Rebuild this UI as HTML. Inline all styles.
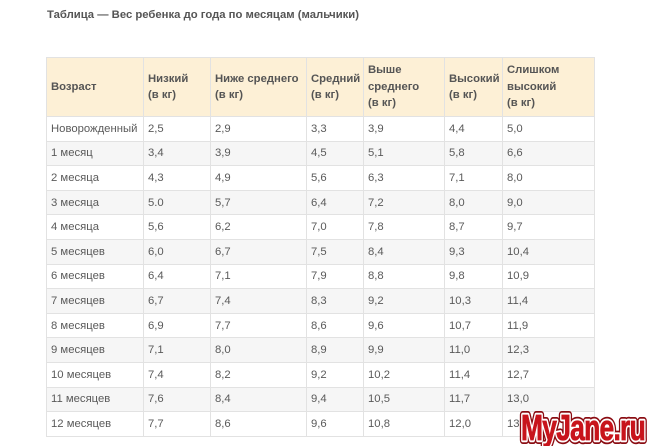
<!DOCTYPE html>
<html><head><meta charset="utf-8">
<style>
html,body{margin:0;padding:0;background:#fff;}
body{width:649px;height:446px;position:relative;overflow:hidden;font-family:"Liberation Sans",Arial,sans-serif;color:#555;}
.title{position:absolute;left:47px;top:9px;font-size:11.3px;font-weight:bold;color:#555;white-space:nowrap;}
table{position:absolute;left:46px;top:57px;width:549px;border-collapse:collapse;table-layout:fixed;font-size:11.3px;}
td,th{border:1px solid #e2e2e2;padding:0 0 0 4px;text-align:left;vertical-align:middle;white-space:nowrap;overflow:hidden;}
th{background:#fdf0d6;font-weight:bold;color:#555;line-height:16.5px;height:58px;}
td{height:23.6px;color:#5a5a5a;}
tr.g td{background:#f6f6f6;}
.wm{position:absolute;left:517px;top:402px;}
</style></head><body>
<div class="title">Таблица — Вес ребенка до года по месяцам (мальчики)</div>
<table>
<colgroup><col style="width:97px"><col style="width:67px"><col style="width:96px"><col style="width:57px"><col style="width:81px"><col style="width:58px"><col style="width:92px"></colgroup>
<tr><th>Возраст</th><th>Низкий<br>(в кг)</th><th>Ниже среднего<br>(в кг)</th><th>Средний<br>(в кг)</th><th>Выше<br>среднего<br>(в кг)</th><th>Высокий<br>(в кг)</th><th>Слишком<br>высокий<br>(в кг)</th></tr>
<tr><td>Новорожденный</td><td>2,5</td><td>2,9</td><td>3,3</td><td>3,9</td><td>4,4</td><td>5,0</td></tr>
<tr class="g"><td>1 месяц</td><td>3,4</td><td>3,9</td><td>4,5</td><td>5,1</td><td>5,8</td><td>6,6</td></tr>
<tr><td>2 месяца</td><td>4,3</td><td>4,9</td><td>5,6</td><td>6,3</td><td>7,1</td><td>8,0</td></tr>
<tr class="g"><td>3 месяца</td><td>5.0</td><td>5,7</td><td>6,4</td><td>7,2</td><td>8,0</td><td>9,0</td></tr>
<tr><td>4 месяца</td><td>5,6</td><td>6,2</td><td>7,0</td><td>7,8</td><td>8,7</td><td>9,7</td></tr>
<tr class="g"><td>5 месяцев</td><td>6,0</td><td>6,7</td><td>7,5</td><td>8,4</td><td>9,3</td><td>10,4</td></tr>
<tr><td>6 месяцев</td><td>6,4</td><td>7,1</td><td>7,9</td><td>8,8</td><td>9,8</td><td>10,9</td></tr>
<tr class="g"><td>7 месяцев</td><td>6,7</td><td>7,4</td><td>8,3</td><td>9,2</td><td>10,3</td><td>11,4</td></tr>
<tr><td>8 месяцев</td><td>6,9</td><td>7,7</td><td>8,6</td><td>9,6</td><td>10,7</td><td>11,9</td></tr>
<tr class="g"><td>9 месяцев</td><td>7,1</td><td>8,0</td><td>8,9</td><td>9,9</td><td>11,0</td><td>12,3</td></tr>
<tr><td>10 месяцев</td><td>7,4</td><td>8,2</td><td>9,2</td><td>10,2</td><td>11,4</td><td>12,7</td></tr>
<tr class="g"><td>11 месяцев</td><td>7,6</td><td>8,4</td><td>9,4</td><td>10,5</td><td>11,7</td><td>13,0</td></tr>
<tr><td>12 месяцев</td><td>7,7</td><td>8,6</td><td>9,6</td><td>10,8</td><td>12,0</td><td>13,1</td></tr>
</table>
<svg class="wm" width="132" height="44" viewBox="0 0 132 44">
<g font-family="'Liberation Sans Narrow','Liberation Sans',sans-serif" font-weight="bold" font-size="36" letter-spacing="-1">
<text x="4" y="38" textLength="124" lengthAdjust="spacingAndGlyphs" fill="#8a0c12" stroke="#8a0c12" stroke-width="8" stroke-linejoin="round">MyJane.ru</text>
<text x="4" y="38" textLength="124" lengthAdjust="spacingAndGlyphs" fill="#fff" stroke="#fff" stroke-width="4.5" stroke-linejoin="round">MyJane.ru</text>
<text x="4" y="38" textLength="124" lengthAdjust="spacingAndGlyphs" fill="#c8141c" stroke="#c8141c" stroke-width="0.8">MyJane.ru</text>
</g>
</svg>
</body></html>
